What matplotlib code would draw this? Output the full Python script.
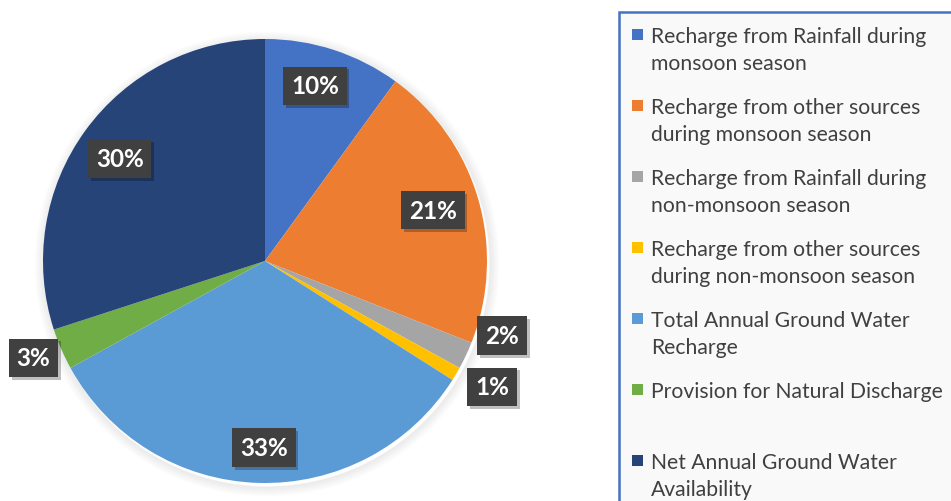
import numpy as np
import matplotlib
matplotlib.use("Agg")
import matplotlib.pyplot as plt
import matplotlib.patheffects as pe
from matplotlib.patches import Rectangle, Circle

# Groundwater resource components (% share)
categorias = [
    "Recharge from Rainfall during\nmonsoon season",
    "Recharge from other sources\nduring monsoon season",
    "Recharge from Rainfall during\nnon-monsoon season",
    "Recharge from other sources\nduring non-monsoon season",
    "Total Annual Ground Water\nRecharge",
    "Provision for Natural Discharge\n ",
    "Net Annual Ground Water\nAvailability",
]
valores = [10, 21, 2, 1, 33, 3, 30]
cores = ["#4472C4", "#ED7D31", "#A5A5A5", "#FFC000", "#5B9BD5", "#70AD47", "#264478"]

# posição dos rótulos: ângulo (graus, horário a partir do topo) e fração do raio
ang_rotulos = [15.9, 73.1, 107.5, 119.0, 180.3, 247.3, 305.1]
dist_rotulos = [0.82, 0.79, 1.12, 1.17, 0.84, 1.13, 0.80]

plt.rcParams['font.family'] = ['Lato', 'DejaVu Sans']

W, H = 951, 502
fig = plt.figure(figsize=(W / 100, H / 100), dpi=100)
fig.patch.set_facecolor("white")
ax = fig.add_axes([0, 0, 1, 1])

cx, cy, r = 265, H - 262, 222

# sombra suave da pizza
for k in range(10):
    ax.add_patch(Circle((cx + 2, cy - 3), r + 1 + k, facecolor="none",
                        edgecolor="black", lw=1.2, alpha=0.05 * (10 - k) / 10, zorder=0))

wedges, _ = ax.pie(valores, colors=cores, startangle=90, counterclock=False,
                   center=(cx, cy), radius=r,
                   wedgeprops=dict(linewidth=0, antialiased=True))

for v, a, d in zip(valores, ang_rotulos, dist_rotulos):
    t = np.deg2rad(a)
    x = cx + d * r * np.sin(t)
    y = cy + d * r * np.cos(t)
    txt = ax.text(x, y, f"{v}%", ha="center", va="center", color="white",
                  fontsize=17.5, fontweight="bold", zorder=5,
                  bbox=dict(boxstyle="square,pad=0.32", facecolor="#404040", edgecolor="none"))
    txt.get_bbox_patch().set_path_effects([
        pe.SimplePatchShadow(offset=(2, -2), shadow_rgbFace="black", alpha=0.25),
        pe.Normal()])

ax.set_xlim(0, W)
ax.set_ylim(0, H)
ax.set_aspect("equal")
ax.axis("off")

# legenda
ax.add_patch(Rectangle((619, -20), 400, H - 13 + 20, facecolor="#F9F9F9",
                       edgecolor="#4472C4", lw=1.8, zorder=1))
passo = 71
for i, (nome, cor) in enumerate(zip(categorias, cores)):
    ax.add_patch(Rectangle((632, H - 41 - i * passo), 11, 11, facecolor=cor,
                           edgecolor="none", zorder=2))
    # ancora na linha de base da última linha do rótulo
    ax.text(651, H - 70 - i * passo, nome, ha="left", va="baseline", color="#404040",
            fontsize=15.2, linespacing=1.45, zorder=2, multialignment="left")

fig.savefig("out.png", dpi=100)
